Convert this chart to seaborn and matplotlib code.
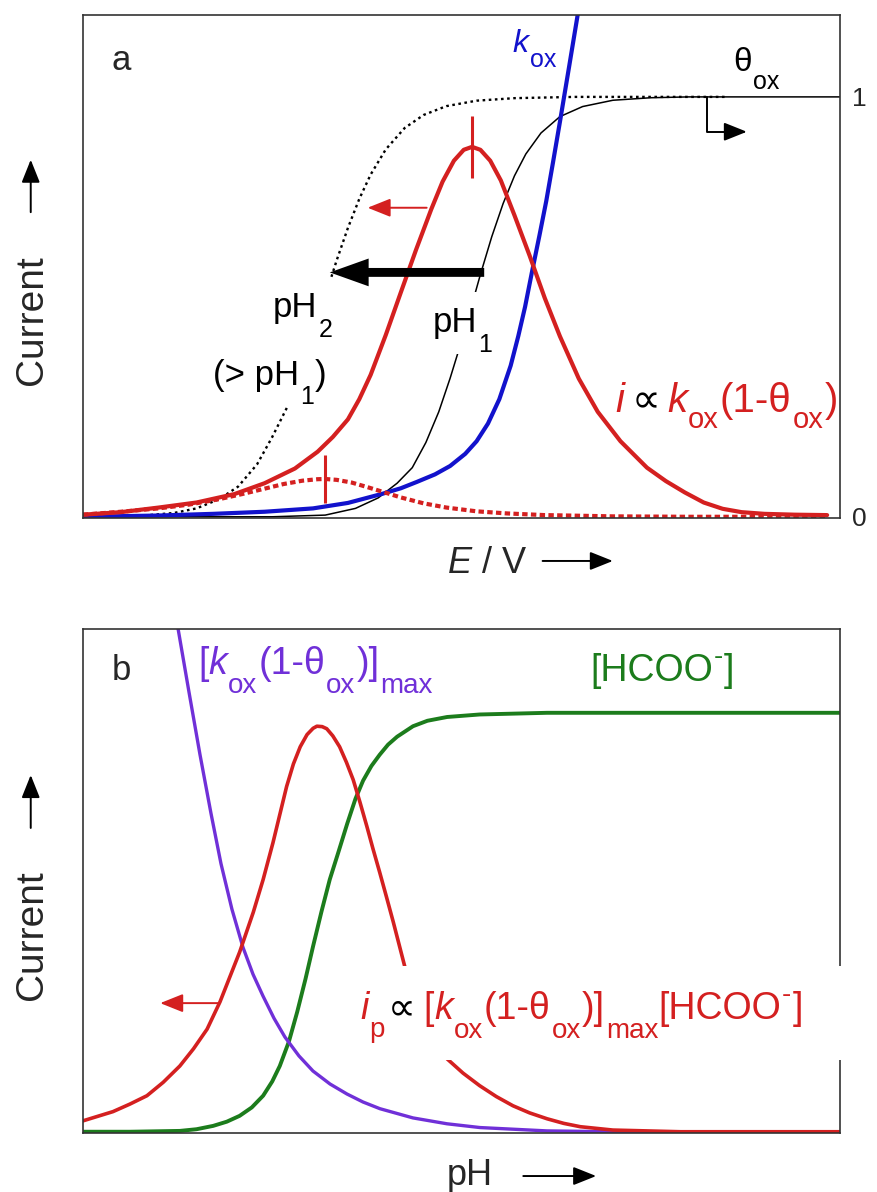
import matplotlib
matplotlib.use('Agg')
import matplotlib.pyplot as plt
import matplotlib.transforms as mtransforms
from matplotlib.patches import Rectangle
import seaborn as sns

sns.set_style('white')
plt.rcParams['font.family'] = ['Liberation Sans', 'DejaVu Sans']
plt.rcParams['mathtext.fontset'] = 'custom'
plt.rcParams['mathtext.rm'] = 'Liberation Sans'
plt.rcParams['mathtext.it'] = 'Liberation Sans:italic'

RED = '#d42020'
BLUE = '#1212cc'
PURPLE = '#7030d8'
GREEN = '#1c7c1c'

# ---- panel a : potential E (arb. units 0-100), signals scaled so theta_ox = 1 ----
E_i1 = [0, 5, 10, 15, 20, 24, 28, 31, 33, 35, 36.5, 38, 40, 42, 44, 46, 47.5, 49, 50.3, 51.4,
        52.5, 53.8, 55.2, 57, 59, 61, 63, 65.5, 68, 71, 74.5, 77, 79.5, 82, 84.5, 87, 90,
        94, 98.3]
i_pH1 = [0.005, 0.011, 0.022, 0.034, 0.054, 0.080, 0.115, 0.155, 0.190, 0.232, 0.280, 0.338,
         0.433, 0.535, 0.636, 0.732, 0.798, 0.848, 0.874, 0.881, 0.874, 0.848, 0.801, 0.718,
         0.622, 0.521, 0.430, 0.329, 0.250, 0.180, 0.117, 0.085, 0.058, 0.034, 0.019, 0.011,
         0.007, 0.005, 0.004]

E_i2 = [0, 5, 10, 14, 18, 21, 24, 26.5, 29, 31, 32, 33.5, 35.5, 37.5, 39.5, 42, 45, 48, 52,
        56, 61, 70, 80, 98.3]
i_pH2 = [0.005, 0.012, 0.020, 0.029, 0.042, 0.054, 0.067, 0.078, 0.086, 0.0895, 0.090,
         0.088, 0.0815, 0.071, 0.060, 0.046, 0.032, 0.022, 0.013, 0.008, 0.004, 0.001, 0.0, 0.0]

E_k = [0, 10, 17.2, 24, 30.4, 35, 39.6, 42, 44.1, 46.5, 48.5, 50.5, 52, 53.5, 55, 56.5, 57.5,
       58.4, 59.3, 60.3, 61.2, 62.1, 63.0, 64.2, 65.3, 65.9]
k_ox = [0, 0.003, 0.007, 0.012, 0.020, 0.033, 0.055, 0.068, 0.083, 0.101, 0.121, 0.150, 0.180,
        0.222, 0.280, 0.360, 0.430, 0.500, 0.582, 0.670, 0.752, 0.845, 0.940, 1.070, 1.190,
        1.260]

E_t1 = [0, 25, 32, 36, 39, 41.5, 43.5, 45.3, 47, 48.5, 50, 51.3, 52.5, 54, 55.5, 57, 58.5,
        60.5, 63, 66, 70, 75, 80, 100]
theta_pH1 = [0, 0, 0.004, 0.020, 0.045, 0.080, 0.117, 0.177, 0.250, 0.330, 0.418, 0.500,
             0.577, 0.667, 0.746, 0.812, 0.864, 0.914, 0.953, 0.977, 0.992, 0.998, 1.0, 1.0]

E_t2 = [0, 8, 12, 15, 18, 20.5, 23, 25, 27, 29, 30.5, 32, 33.5, 35, 36.5, 38, 40, 42.5, 45,
        48, 52, 57, 65, 85]
theta_pH2 = [0, 0.003, 0.009, 0.020, 0.042, 0.072, 0.125, 0.190, 0.262, 0.357, 0.439, 0.525,
             0.610, 0.688, 0.757, 0.815, 0.875, 0.926, 0.957, 0.978, 0.991, 0.997, 1.0, 1.0]

peak_E = [51.4, 32.0]
peak_i = [0.881, 0.090]

# ---- panel b : pH (arb. units 0-100), scaled so [HCOO-] plateau = 1 ----
pH_g = [0, 6.2, 12.8, 15, 17.2, 19, 20.7, 22.3, 23.8, 25, 26.0, 27.2, 28.3, 29.4, 30.4, 31.5,
        32.6, 33.7, 34.9, 36, 37, 38.1, 39.2, 40.3, 41.5, 43.6, 45.5, 48.1, 52.4, 61.3, 78.9, 100]
hcoo = [0, 0, 0.002, 0.006, 0.014, 0.024, 0.038, 0.058, 0.086, 0.120, 0.157, 0.215, 0.286,
        0.365, 0.443, 0.525, 0.602, 0.665, 0.735, 0.795, 0.838, 0.873, 0.900, 0.924, 0.943,
        0.968, 0.981, 0.990, 0.996, 1.0, 1.0, 1.0]

pH_p = [12.2, 12.55, 14.0, 15.46, 16.91, 18.23, 19.68, 21.14, 22.46, 23.78, 25.23, 26.68,
        28.53, 30.38, 32.63, 34.88, 36.99, 39.23, 43.59, 48.08, 52.44, 61.29, 70.0, 100]
kmax = [1.238, 1.202, 1.05, 0.90, 0.76, 0.64, 0.531, 0.440, 0.376, 0.324, 0.271, 0.226, 0.181,
        0.145, 0.114, 0.090, 0.071, 0.055, 0.033, 0.019, 0.010, 0.002, 0.0, 0.0]

pH_r = [0, 3.96, 6.2, 8.45, 10.6, 12.8, 14.6, 16.4, 18.1, 20.7, 22.5, 23.8, 25.1, 26.9, 27.8,
        28.7, 29.6, 30.4, 30.9, 31.6, 32.2, 33, 33.9, 34.8, 35.7, 36.6, 37.5, 38.3, 39.2, 40.1,
        41.0, 42.5, 48.1, 50.2, 52.4, 54.6, 56.8, 59, 61.3, 63.5, 65.7, 70, 78.9, 100]
i_peak = [0.026, 0.048, 0.066, 0.086, 0.118, 0.157, 0.198, 0.245, 0.310, 0.429, 0.524, 0.602,
          0.690, 0.824, 0.878, 0.919, 0.948, 0.963, 0.968, 0.967, 0.962, 0.945, 0.919, 0.882,
          0.840, 0.786, 0.729, 0.676, 0.619, 0.560, 0.500, 0.395, 0.174, 0.140, 0.110, 0.084,
          0.062, 0.045, 0.031, 0.020, 0.012, 0.004, 0.0, 0.0]


fig = plt.figure(figsize=(8.78, 11.92), dpi=100)
ax_a = fig.add_axes([0.0945, 0.5654, 0.8622, 0.422])
ax_b = fig.add_axes([0.0945, 0.0495, 0.8622, 0.4228])
renderer = fig.canvas.get_renderer()


def curve(ax, x, y, color, lw, ls='-'):
    sns.lineplot(x=x, y=y, ax=ax, color=color, linewidth=lw, linestyle=ls,
                 estimator=None, sort=False, zorder=2)


def arrow(ax, start, end, color='black', coords='data', lw=1.4, hl=0.7, hw=0.28, conn=None):
    props = dict(arrowstyle=f'-|>,head_length={hl},head_width={hw}', color=color, lw=lw,
                 mutation_scale=20, shrinkA=0, shrinkB=0)
    if conn:
        props['connectionstyle'] = conn
    ax.annotate('', xy=end, xytext=start, xycoords=coords, textcoords=coords,
                arrowprops=props, zorder=5)


def chain(ax, x, y, pieces, bbox=None):
    # label built from pieces (text, colour, size, shift in pt, italic, gap in px),
    # laid out left to right on one baseline; subscripts hang low as in the original.
    # with bbox, white boxes go in a first pass under all the glyphs
    inv = ax.transData.inverted()
    passes = [(True, 5), (False, 6)] if bbox else [(False, 6)]
    for boxed, z in passes:
        xx = x
        for s, c, size, dy, it, gap in pieces:
            px = ax.transData.transform((xx, y))[0] + gap
            xx = inv.transform((px, 0))[0]
            tr = mtransforms.offset_copy(ax.transData, fig=fig, y=dy, units='points')
            t = ax.text(xx, y, s, color='white' if boxed else c, fontsize=size,
                        style='italic' if it else 'normal', transform=tr, va='baseline',
                        ha='left', zorder=z, bbox=bbox if boxed else None)
            bb = t.get_window_extent(renderer)
            xx = inv.transform((bb.x1, 0))[0]


def M(s, c, size, it=False, gap=0):
    return (s, c, size, 0, it, gap)


def S(s, c, size, drop, gap=1):
    return (s, c, size, -drop, False, gap)


for ax in (ax_a, ax_b):
    ax.set_xlim(0, 100)
    ax.set_xticks([])
    for s in ax.spines.values():
        s.set_linewidth(1.2)
        s.set_color('#333333')

# ---------------- panel a ----------------
curve(ax_a, E_t2, theta_pH2, 'black', 1.7, (0, (1.1, 1.5)))
curve(ax_a, E_t1, theta_pH1, 'black', 1.1)
curve(ax_a, E_k, k_ox, BLUE, 3.0)
curve(ax_a, E_i2, i_pH2, RED, 3.0, (0, (1.3, 0.8)))
curve(ax_a, E_i1, i_pH1, RED, 3.0)
ax_a.plot(peak_E[:1], peak_i[:1], ls='none', marker='|', ms=45, mew=2.2, color=RED, zorder=3)
ax_a.plot(peak_E[1:], peak_i[1:], ls='none', marker='|', ms=34, mew=2.2, color=RED, zorder=3)

ax_a.set_ylim(-0.003, 1.195)
ax_a.yaxis.tick_right()
ax_a.set_yticks([0, 1])
ax_a.set_yticklabels(['0', '1'])
ax_a.tick_params(axis='y', length=0, pad=9, labelsize=19)
ax_a.set_xlabel('')
ax_a.set_ylabel('')

# big shift arrow pH1 -> pH2
ax_a.annotate('', xy=(32.6, 0.582), xytext=(53.0, 0.582),
              arrowprops=dict(arrowstyle='simple,head_length=1.4,head_width=1.0,tail_width=0.32',
                              fc='black', ec='none', mutation_scale=20, shrinkA=0, shrinkB=0),
              zorder=5)
arrow(ax_a, (45.4, 0.736), (37.6, 0.736), RED)
arrow(ax_a, (82.4, 1.0), (87.7, 0.917), 'black', conn='angle,angleA=90,angleB=0,rad=0')

wb = dict(boxstyle='square,pad=0.42', fc='white', ec='none')
K = 'black'
ax_a.text(3.8, 1.064, 'a', fontsize=25, va='baseline')
chain(ax_a, 56.8, 1.107, [M('k', BLUE, 23, it=True), S('ox', BLUE, 18, 11)])
chain(ax_a, 85.9, 1.062, [M('θ', K, 24), S('ox', K, 18, 13)])
chain(ax_a, 25.1, 0.475, [M('pH', K, 25), S('2', K, 18, 14)], bbox=wb)
chain(ax_a, 17.2, 0.314, [M('(> pH', K, 25), S('1', K, 18, 14), M(')', K, 25, gap=1)], bbox=wb)
chain(ax_a, 46.2, 0.439, [M('pH', K, 25), S('1', K, 18, 14)], bbox=wb)
chain(ax_a, 70.3, 0.249, [M('i', RED, 29, it=True), M('∝', K, 29, gap=7),
                          M('k', RED, 29, it=True, gap=7), S('ox', RED, 21, 11),
                          M('(1-θ', RED, 29, gap=1), S('ox', RED, 21, 11), M(')', RED, 29, gap=1)])

# ---------------- panel b ----------------
curve(ax_b, pH_g, hcoo, GREEN, 2.8)
curve(ax_b, pH_p, kmax, PURPLE, 2.4)
curve(ax_b, pH_r, i_peak, RED, 2.6)
ax_b.set_ylim(-0.003, 1.2)
ax_b.set_yticks([])
ax_b.set_xlabel('')
ax_b.set_ylabel('')

arrow(ax_b, (18.1, 0.307), (10.2, 0.307), RED)
ax_b.add_patch(Rectangle((41.6, 0.171), 59.6, 0.224, fc='white', ec='none',
                         zorder=4, clip_on=False))
ax_b.text(3.8, 1.079, 'b', fontsize=25, va='baseline')


def kox_max(c, size, sub, drop, lead=0):
    return [M('[', c, size, gap=lead), M('k', c, size, it=True), S('ox', c, sub, drop),
            M('(1-θ', c, size, gap=1), S('ox', c, sub, drop), M(')]', c, size, gap=1),
            S('max', c, sub, drop)]


def formate(c, size, sup):
    return [M('[HCOO', c, size), ('-', c, sup, 12, False, 1), M(']', c, size, gap=1)]


chain(ax_b, 15.2, 1.093, kox_max(PURPLE, 27, 20, 14))
chain(ax_b, 67.0, 1.076, formate(GREEN, 27, 20))
chain(ax_b, 36.6, 0.269, [M('i', RED, 27, it=True), S('p', RED, 20, 13), M('∝', K, 28, gap=3)]
      + kox_max(RED, 27, 20, 14, lead=8) + formate(RED, 27, 20))

# ---------------- axis captions ----------------
for yc, a0, a1 in [(0.7315, 0.822, 0.866), (0.2156, 0.3054, 0.3498)]:
    fig.text(0.036, yc, 'Current', rotation=90, ha='center', va='center', fontsize=28)
    arrow(ax_a, (0.035, a0), (0.035, a1), coords='figure fraction')

fig.text(0.509, 0.5193, '$E$ / V', fontsize=26, va='baseline')
arrow(ax_a, (0.618, 0.5294), (0.698, 0.5294), coords='figure fraction')
fig.text(0.509, 0.0059, 'pH', fontsize=26, va='baseline')
arrow(ax_a, (0.596, 0.0134), (0.679, 0.0134), coords='figure fraction')

fig.savefig('out.png', dpi=100)
